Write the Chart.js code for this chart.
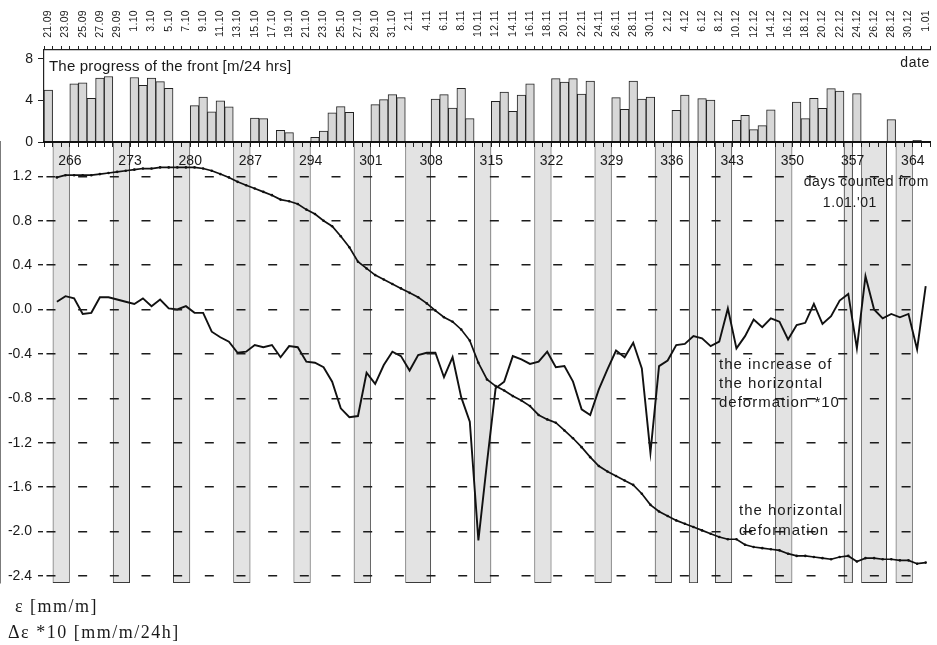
<!DOCTYPE html>
<html>
<head>
<meta charset="utf-8">
<title>Progress of the front and horizontal deformation</title>
<script src="https://cdn.jsdelivr.net/npm/chart.js@4.4.1/dist/chart.umd.min.js"></script>
<style>
  html, body { margin: 0; padding: 0; background: #ffffff; }
  #wrap { position: relative; width: 937px; height: 645px; }
  canvas { display: block; }
</style>
</head>
<body>
<div id="wrap"><canvas id="chart" width="937" height="645"></canvas></div>
<script>
// ---- data -------------------------------------------------------------

// Date labels on the top axis (every second day, 21.09.2001 - 1.01.2002)
const dateLabels = [
  '21.09','23.09','25.09','27.09','29.09','1.10','3.10','5.10','7.10','9.10',
  '11.10','13.10','15.10','17.10','19.10','21.10','23.10','25.10','27.10','29.10',
  '31.10','2.11','4.11','6.11','8.11','10.11','12.11','14.11','16.11','18.11',
  '20.11','22.11','24.11','26.11','28.11','30.11','2.12','4.12','6.12','8.12',
  '10.12','12.12','14.12','16.12','18.12','20.12','22.12','24.12','26.12','28.12',
  '30.12','1.01'
];

// Day numbers (counted from 1.01.'01) printed under the zero line
const dayMarks = [266, 273, 280, 287, 294, 301, 308, 315, 322, 329, 336, 343, 350, 357, 364];

// Non-working days (weekends and holidays): first and last day of each break
const breakStart = [265, 272, 279, 286, 293, 300, 306, 314, 321, 328, 335, 339, 342, 349, 357, 359, 363];
const breakEnd   = [266, 273, 280, 287, 294, 301, 308, 315, 322, 329, 336, 339, 343, 350, 357, 361, 364];

// Daily progress of the longwall front [m/24 hrs], days 264..366 (null = no work)
const progressFirstDay = 264;
const frontProgress = [
  5.0, null, null, 5.6, 5.7, 4.2, 6.15, 6.3, null, null,
  6.2, 5.45, 6.15, 5.8, 5.15, null, null, 3.5, 4.33, 2.9,
  3.95, 3.37, null, null, 2.3, 2.25, 0, 1.12, 0.9, null,
  null, 0.45, 1.06, 2.8, 3.4, 2.85, null, null, 3.6, 4.07,
  4.55, 4.26, null, null, null, 4.13, 4.55, 3.27, 5.16, 2.25,
  null, null, 3.9, 4.8, 2.95, 4.5, 5.6, null, null, 6.1,
  5.75, 6.1, 4.6, 5.85, null, null, 4.26, 3.15, 5.85, 4.13,
  4.33, null, null, 3.05, 4.5, null, 4.17, 4.04, null, null,
  2.08, 2.56, 1.19, 1.57, 3.1, null, null, 3.85, 2.25, 4.2,
  3.24, 5.13, 4.9, null, 4.65, null, null, null, 2.15, null,
  null, 0.15, null
];

// Horizontal deformation ε [mm/m], days 265..366
const strainFirstDay = 265;
const strain = [
  1.19, 1.21, 1.21, 1.21, 1.21, 1.22, 1.23, 1.24, 1.25, 1.26,
  1.27, 1.27, 1.28, 1.28, 1.28, 1.28, 1.28, 1.27, 1.25, 1.22,
  1.19, 1.15, 1.12, 1.09, 1.06, 1.03, 0.99, 0.975, 0.95, 0.90,
  0.86, 0.80, 0.75, 0.66, 0.56, 0.43, 0.37, 0.31, 0.27, 0.23,
  0.19, 0.15, 0.11, 0.055, -0.01, -0.07, -0.11, -0.18, -0.28, -0.48,
  -0.63, -0.69, -0.73, -0.78, -0.82, -0.87, -0.95, -0.99, -1.02, -1.09,
  -1.16, -1.24, -1.33, -1.41, -1.46, -1.50, -1.54, -1.58, -1.66, -1.76,
  -1.82, -1.86, -1.90, -1.93, -1.96, -1.99, -2.02, -2.05, -2.07, -2.07,
  -2.12, -2.14, -2.15, -2.16, -2.17, -2.20, -2.22, -2.22, -2.23, -2.24,
  -2.25, -2.23, -2.22, -2.27, -2.24, -2.24, -2.25, -2.25, -2.26, -2.26,
  -2.29, -2.28
];

// Daily increase of the horizontal deformation ×10 [mm/m/24h], days 265..366
const strainIncrease = [
  0.07, 0.12, 0.10, -0.04, -0.03, 0.11, 0.11, 0.09, 0.07, 0.05,
  0.10, 0.03, 0.09, 0.01, 0.00, 0.03, -0.03, -0.03, -0.20, -0.25,
  -0.29, -0.39, -0.38, -0.32, -0.34, -0.32, -0.43, -0.33, -0.34, -0.47,
  -0.48, -0.52, -0.65, -0.89, -0.97, -0.96, -0.57, -0.67, -0.50, -0.38,
  -0.42, -0.55, -0.41, -0.39, -0.39, -0.61, -0.43, -0.79, -1.01, -2.08,
  -1.38, -0.71, -0.65, -0.42, -0.45, -0.49, -0.47, -0.38, -0.52, -0.51,
  -0.65, -0.90, -0.95, -0.72, -0.54, -0.37, -0.43, -0.30, -0.53, -1.29,
  -0.51, -0.46, -0.32, -0.31, -0.24, -0.26, -0.33, -0.29, 0.01, -0.35,
  -0.24, -0.09, -0.16, -0.08, -0.11, -0.27, -0.14, -0.12, 0.05, -0.13,
  -0.06, 0.08, 0.14, -0.35, 0.30, 0.00, -0.08, -0.04, -0.07, -0.04,
  -0.36, 0.21
];

// ---- helpers ------------------------------------------------------------

const SANS = '"Liberation Sans", Arial, Helvetica, sans-serif';
const SERIF = '"Liberation Serif", "Times New Roman", serif';
const INK = '#1a1a1a';

// day of year (2001) at which each month starts; January belongs to 2002
const monthOffset = { 9: 243, 10: 273, 11: 304, 12: 334, 1: 365 };
const dayOfYear = label => {
  const [d, m] = label.split('.').map(Number);
  return monthOffset[m] + d;
};

const X_MIN = 263.5, X_MAX = 366.5;
const TOP_MAX = 8.846;
const BOT_MIN = -2.464, BOT_MAX = 1.509;

const toPoints = (first, values) =>
  values.map((v, i) => ({ x: first + i, y: v })).filter(p => p.y !== null);

// one floating bar per break, grouped by its length in days
const breakBars = len => breakStart
  .map((s, i) => ({ s, e: breakEnd[i] }))
  .filter(b => b.e - b.s + 1 === len)
  .map(b => ({ x: (b.s + b.e) / 2, y: [BOT_MIN, BOT_MAX] }));

const breakStyle = len => ({
  type: 'bar',
  data: breakBars(len),
  xAxisID: 'x',
  yAxisID: 'yBot',
  grouped: false,
  categoryPercentage: 1,
  barPercentage: len,
  backgroundColor: '#e3e3e3',
  borderColor: '#3a3a3a',
  borderWidth: 1,
  borderSkipped: false,
  order: 3
});

// ---- text drawn on the canvas ----------------------------------------------

const textLayer = {
  id: 'textLayer',
  afterDraw(chart) {
    const { ctx } = chart;
    const x = chart.scales.x;
    ctx.save();
    ctx.fillStyle = INK;

    // vertical date labels above the top axis
    ctx.font = `10.5px ${SANS}`;
    ctx.letterSpacing = '0.3px';
    ctx.textAlign = 'right';
    ctx.textBaseline = 'middle';
    dateLabels.forEach(lbl => {
      const px = x.getPixelForValue(dayOfYear(lbl));
      ctx.save();
      ctx.translate(px, 10);
      ctx.rotate(-Math.PI / 2);
      ctx.fillText(lbl, 0, 0);
      ctx.restore();
    });

    ctx.textBaseline = 'alphabetic';

    ctx.font = `14px ${SANS}`;
    ctx.letterSpacing = '0.6px';
    ctx.textAlign = 'right';
    ctx.fillText('date', 930, 67);
    ctx.fillText('days counted from', 929, 186);
    ctx.fillText("1.01.'01", 877, 207);

    ctx.textAlign = 'left';
    ctx.font = `15px ${SANS}`;
    ctx.letterSpacing = '0.2px';
    ctx.fillText('The progress of the front [m/24 hrs]', 49, 71);

    ctx.font = `15px ${SANS}`;
    ctx.letterSpacing = '1px';
    ctx.fillText('the increase of', 719, 369);
    ctx.fillText('the horizontal', 719, 388);
    ctx.fillText('deformation *10', 719, 407);

    ctx.fillText('the horizontal', 739, 515);
    ctx.fillText('deformation', 739, 535);

    ctx.font = `18px ${SERIF}`;
    ctx.letterSpacing = '1.5px';
    ctx.fillText('ε [mm/m]', 15, 612);
    ctx.fillText('Δε *10 [mm/m/24h]', 8, 638);

    ctx.restore();
  }
};

// ---- chart ----------------------------------------------------------------

const tickFont = { family: SANS, size: 14 };

new Chart(document.getElementById('chart'), {
  type: 'line',
  data: {
    datasets: [
      {
        type: 'line',
        label: 'the increase of the horizontal deformation *10',
        data: toPoints(strainFirstDay, strainIncrease),
        xAxisID: 'x', yAxisID: 'yBot',
        borderColor: '#111', borderWidth: 1.9,
        pointRadius: 0, tension: 0, fill: false,
        order: 0
      },
      {
        type: 'line',
        label: 'the horizontal deformation',
        data: toPoints(strainFirstDay, strain),
        xAxisID: 'x', yAxisID: 'yBot',
        borderColor: '#111', borderWidth: 1.7,
        pointRadius: 1.3, pointBackgroundColor: '#111', pointBorderWidth: 0,
        tension: 0, fill: false,
        order: 1
      },
      {
        type: 'bar',
        label: 'The progress of the front [m/24 hrs]',
        data: toPoints(progressFirstDay, frontProgress),
        xAxisID: 'x', yAxisID: 'yTop',
        grouped: false,
        categoryPercentage: 1, barPercentage: 1,
        backgroundColor: '#d7d7d7',
        borderColor: '#222',
        borderWidth: 1,
        order: 2
      },
      breakStyle(1),
      breakStyle(2),
      breakStyle(3)
    ]
  },
  options: {
    responsive: false,
    animation: false,
    devicePixelRatio: 1,
    events: [],
    layout: { padding: { left: 0, right: 7, top: 0, bottom: 62 } },
    plugins: { legend: { display: false }, tooltip: { enabled: false } },
    scales: {
      x: {
        axis: 'x', type: 'linear', position: 'top',
        min: X_MIN, max: X_MAX, offset: false,
        ticks: { display: false, stepSize: 1 },
        grid: { drawOnChartArea: false, tickLength: 4, tickColor: '#222', offset: false },
        border: { color: '#222', width: 1.2 },
        afterFit: s => { s.height = 50; }
      },
      x2: {
        axis: 'x', type: 'linear', position: { yTop: 0 },
        min: X_MIN, max: X_MAX, offset: false,
        ticks: {
          stepSize: 1, autoSkip: false, maxRotation: 0, minRotation: 0,
          padding: 7, color: INK, font: tickFont, z: 2,
          callback: v => {
            const d = Math.round(v - 0.5);
            return dayMarks.includes(d) ? String(d) : '';
          }
        },
        grid: { drawOnChartArea: false, tickLength: 4, tickColor: '#222', offset: false, z: 1 },
        border: { color: '#111', width: 2, z: 1 }
      },
      // lower panel first: stacked left axes are placed top-down in reverse order
      yBot: {
        axis: 'y', type: 'linear', position: 'left',
        stack: 'panels', stackWeight: 441,
        min: BOT_MIN, max: BOT_MAX,
        ticks: {
          stepSize: 0.2, includeBounds: false, padding: 6, color: INK, font: tickFont,
          callback: v => {
            const t = Math.round(v * 10);
            return t % 4 === 0 ? (t / 10).toFixed(1) : '';
          }
        },
        grid: {
          color: c => (Math.round(c.tick.value * 10) % 4 === 0 ? '#1c1c1c' : 'rgba(0,0,0,0)'),
          lineWidth: 1.4,
          tickLength: 6, tickColor: '#222',
          z: 1
        },
        border: { color: '#222', width: 1.2, dash: [9, 22.67], dashOffset: 29.4 },
        afterFit: s => { s.width = 44; }
      },
      yTop: {
        axis: 'y', type: 'linear', position: 'left',
        stack: 'panels', stackWeight: 92,
        min: 0, max: TOP_MAX,
        ticks: {
          stepSize: 2, includeBounds: false, padding: 5, color: INK, font: tickFont,
          callback: v => (v % 4 === 0 ? String(v) : '')
        },
        grid: { drawOnChartArea: false, tickLength: 6, tickColor: '#222' },
        border: { color: '#222', width: 1.2 },
        afterFit: s => { s.width = 44; }
      }
    }
  },
  plugins: [textLayer]
});
</script>
</body>
</html>
